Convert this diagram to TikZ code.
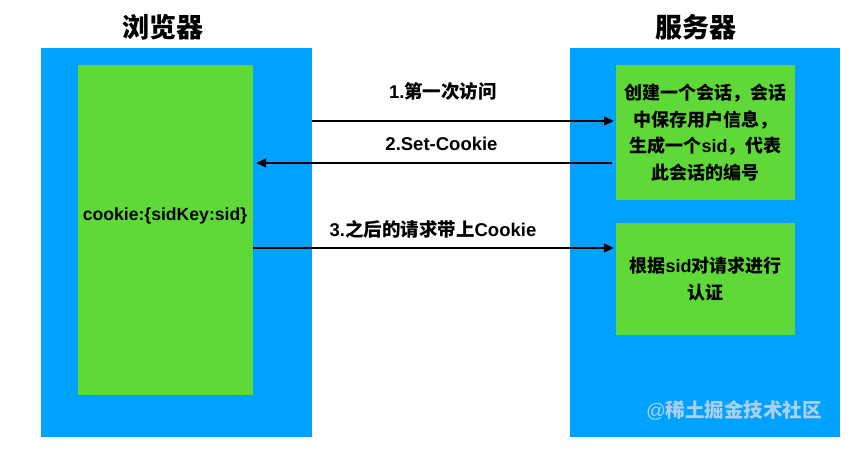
\documentclass[tikz,border=0pt]{standalone}
\usepackage{fontspec}
\setmainfont{Liberation Sans}
\newfontfamily\cjk{Noto Sans CJK SC}
\usetikzlibrary{arrows.meta,calc}
\newcommand{\zh}[1]{{\cjk\bfseries #1}}
\definecolor{bluebg}{RGB}{0,162,255}
\definecolor{greenbg}{RGB}{95,217,56}
\definecolor{wm}{RGB}{172,208,236}
\tikzset{
  bluebox/.style={draw=none,fill=bluebg,inner sep=0pt},
  greenbox/.style={draw=none,fill=greenbg,inner sep=0pt,align=center,font=\fontsize{18}{26.5}\selectfont\bfseries},
  title/.style={font=\fontsize{27}{30}\selectfont\bfseries},
  lbl/.style={font=\fontsize{18.5}{20}\selectfont\bfseries},
  arr/.style={line width=1.8pt,-{Triangle[length=10pt,width=9pt]}}
}
\begin{document}
\begin{tikzpicture}[x=1pt,y=-1pt]
\useasboundingbox (0,0) rectangle (856,450);
\node[title] (t1) at (163,27) {\zh{浏览器}};
\node[title] (t2) at (696,27) {\zh{服务器}};
\node[bluebox,minimum width=271pt,minimum height=389pt] (lb) at (176.5,242.5) {};
\node[greenbox,minimum width=175pt,minimum height=330pt] (lg) at (165.5,230) {};
\node[font=\fontsize{17.6}{20}\selectfont\bfseries] (ck) at (165,216) {cookie:\{sidKey:sid\}};
\node[bluebox,minimum width=270pt,minimum height=389pt] (rb) at (705,242.5) {};
\node[greenbox,minimum width=179pt,minimum height=135pt] (rg1) at (705.5,132.5)
  {\zh{创建一个会话，会话}\\\zh{中保存用户信息，}\\\zh{生成一个}sid\zh{，代表}\\\zh{此会话的编号}};
\node[greenbox,minimum width=179pt,minimum height=112pt] (rg2) at (705.5,279)
  {\zh{根据}sid\zh{对请求进行}\\\zh{认证}};
\node[font=\fontsize{19.5}{20}\selectfont,text=wm] (wmk) at (734,410) {@\zh{稀土掘金技术社区}};
\coordinate (a1) at (440,121);
\coordinate (a2) at (440,163);
\coordinate (a3) at (440,248);
\node[lbl] (l1) at (443,91) {1.\zh{第一次访问}};
\node[lbl] (l2) at (441.5,144) {2.Set-Cookie};
\node[lbl] (l3) at (433,229) {3.\zh{之后的请求带上}Cookie};
\draw[arr] (lb.east |- a1) -- ($(rg1.west |- a1)+(-2,0)$);
\draw[arr] ($(rg1.west |- a2)+(-4,0)$) -- ($(lg.east |- a2)+(3,0)$);
\draw[arr] (lg.east |- a3) -- ($(rg2.west |- a3)+(-2,0)$);
\end{tikzpicture}
\end{document}
